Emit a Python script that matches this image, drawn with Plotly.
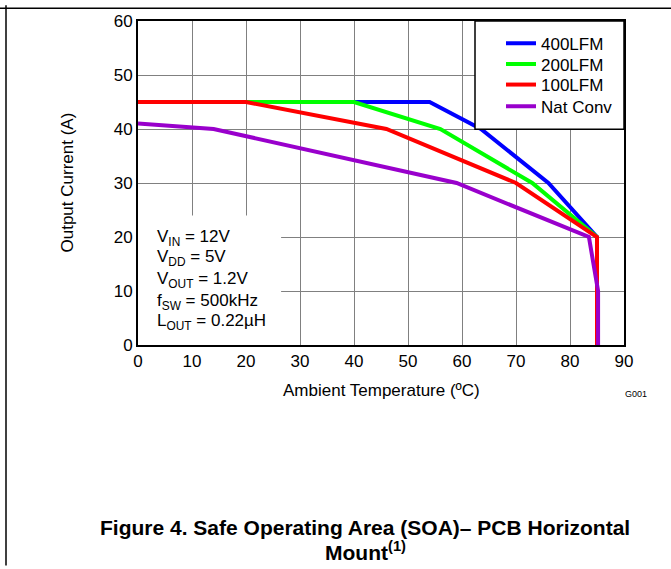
import plotly.graph_objects as go

# ---- data ----
series_names = ["400LFM", "200LFM", "100LFM", "Nat Conv"]
x_400 = [0, 54, 63.5, 76, 85, 85]
y_400 = [45, 45, 40, 30, 20, 0]
x_200 = [0, 40, 56, 73, 85, 85]
y_200 = [45, 45, 40, 30, 20, 0]
x_100 = [0, 20, 46, 70, 85, 85]
y_100 = [45, 45, 40, 30, 20, 0]
x_nat = [0, 14, 59, 83.5, 85.2, 85.2]
y_nat = [41, 40, 30, 20, 10, 0]
colors = ["#0000FF", "#00FF00", "#FF0000", "#9900CC"]
x_ticks = [0, 10, 20, 30, 40, 50, 60, 70, 80, 90]
y_ticks = [0, 10, 20, 30, 40, 50, 60]
cond_lines = ["V<sub>IN</sub> = 12V", "V<sub>DD</sub> = 5V", "V<sub>OUT</sub> = 1.2V",
              "f<sub>SW</sub> = 500kHz", "L<sub>OUT</sub> = 0.22µH"]

FONT = "Liberation Sans, Arial, sans-serif"
W, H = 671, 569
L, R, T, B = 138, 47, 16, 224
ph = H - T - B

def py(p):  # pixel y -> paper y
    return (H - B - p) / ph

def px(p):
    return (p - L) / (W - L - R)

fig = go.Figure()
xs = [x_400, x_200, x_100, x_nat]
ys = [y_400, y_200, y_100, y_nat]
legend_ids = ["legend", "legend2", "legend3", "legend4"]
for name, x, y, c, lg in zip(series_names, xs, ys, colors, legend_ids):
    fig.add_trace(go.Scatter(x=x, y=y, mode="lines", name=name, legend=lg,
                             line=dict(color=c, width=4)))

shapes = [
    dict(type="rect", xref="x", yref="y", x0=0, x1=26.5, y0=0, y1=24,
         fillcolor="white", line=dict(width=0), layer="between"),
    dict(type="rect", xref="paper", yref="paper", x0=px(475), x1=1, y0=py(126), y1=1,
         fillcolor="white", line=dict(color="black", width=1.5), layer="above"),
    dict(type="line", xref="paper", yref="paper", x0=px(0), x1=px(671), y0=py(3), y1=py(3),
         line=dict(color="black", width=1.5)),
    dict(type="line", xref="paper", yref="paper", x0=px(6), x1=px(6), y0=py(0), y1=py(569),
         line=dict(color="black", width=1.5)),
]

annotations = []
cond_y = [236, 257, 279, 301, 322]
for txt, yy in zip(cond_lines, cond_y):
    annotations.append(dict(text=txt, xref="paper", yref="paper", x=px(155), y=py(yy),
                            xanchor="left", yanchor="middle", showarrow=False,
                            font=dict(family=FONT, size=17, color="black")))
annotations += [
    dict(text="Output Current (A)", xref="paper", yref="paper", x=px(68), y=py(180),
         textangle=-90, showarrow=False, xanchor="center", yanchor="middle",
         font=dict(family=FONT, size=17, color="black")),
    dict(text="Ambient Temperature (ºC)", xref="paper", yref="paper", x=px(381), y=py(391),
         showarrow=False, xanchor="center", yanchor="middle",
         font=dict(family=FONT, size=17, color="black")),
    dict(text="G001", xref="paper", yref="paper", x=px(636), y=py(395),
         showarrow=False, xanchor="center", yanchor="middle",
         font=dict(family=FONT, size=9, color="black")),
    dict(text="<b>Figure 4. Safe Operating Area (SOA)– PCB Horizontal</b>", xref="paper", yref="paper",
         x=px(365), y=py(530), showarrow=False, xanchor="center", yanchor="middle",
         font=dict(family=FONT, size=21, color="black")),
    dict(text="<b>Mount<sup>(1)</sup></b>", xref="paper", yref="paper",
         x=px(365), y=py(554), showarrow=False, xanchor="center", yanchor="middle",
         font=dict(family=FONT, size=21, color="black")),
]

leg_y = [39, 60, 81, 103]
leg_common = dict(x=px(501), xanchor="left", yanchor="middle", bgcolor="rgba(0,0,0,0)",
                  borderwidth=0, font=dict(family=FONT, size=17, color="black"),
                  itemclick=False, itemdoubleclick=False)
legends = {}
for lg, yy in zip(legend_ids, leg_y):
    legends[lg] = dict(leg_common, y=py(yy))

fig.update_layout(
    width=W, height=H,
    margin=dict(l=L, r=R, t=T, b=B, pad=0),
    paper_bgcolor="white", plot_bgcolor="white",
    font=dict(family=FONT, size=17, color="black"),
    showlegend=True,
    shapes=shapes, annotations=annotations,
    **legends,
)
fig.update_xaxes(range=[0, 90], tickvals=x_ticks, ticktext=[str(v) for v in x_ticks],
                 showgrid=True, gridcolor="#808080", gridwidth=1,
                 showline=True, linecolor="black", linewidth=2, mirror=True,
                 ticks="", zeroline=False, tickfont=dict(family=FONT, size=17),
                 fixedrange=True)
fig.update_yaxes(range=[0, 60], tickvals=y_ticks, ticktext=[str(v) for v in y_ticks],
                 showgrid=True, gridcolor="#808080", gridwidth=1,
                 showline=True, linecolor="black", linewidth=2, mirror=True,
                 ticks="", zeroline=False, tickfont=dict(family=FONT, size=17),
                 fixedrange=True)

fig.write_html("out.html", config={"displayModeBar": False},
               post_script="document.body.style.margin='0px';")
